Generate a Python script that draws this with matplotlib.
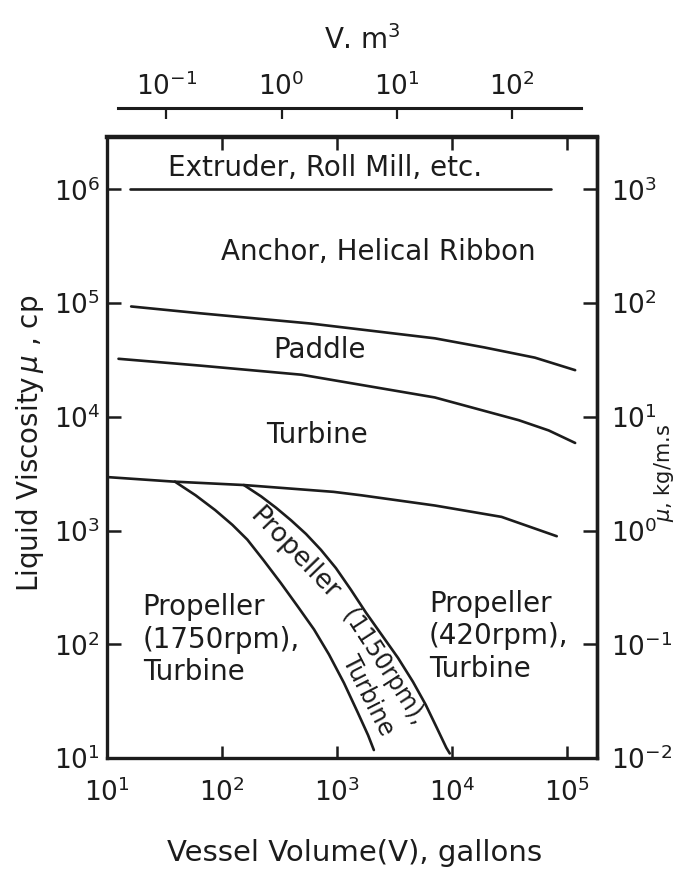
import numpy as np
import matplotlib.pyplot as plt

# values, as log10 exponents
# x = vessel volume, gallons ; y = liquid viscosity, cp
extruder_x = [1.20, 4.86]
extruder_y = [6.00, 6.00]

anchor_x = [1.21, 1.81, 2.77, 3.85, 4.28, 4.72, 5.07]
anchor_y = [4.97, 4.91, 4.82, 4.69, 4.61, 4.52, 4.41]

paddle_x = [1.10, 1.81, 2.69, 3.85, 4.58, 4.84, 5.07]
paddle_y = [4.51, 4.45, 4.37, 4.17, 3.97, 3.88, 3.77]

turbine_x = [1.00, 1.58, 2.19, 2.97, 3.21, 3.85, 4.43, 4.91]
turbine_y = [3.47, 3.43, 3.40, 3.34, 3.31, 3.22, 3.12, 2.95]

prop1750_x = [1.59, 1.77, 1.94, 2.09, 2.22, 2.36, 2.51, 2.66, 2.80, 2.93,
              3.06, 3.18, 3.27, 3.32]
prop1750_y = [3.43, 3.31, 3.18, 3.05, 2.92, 2.74, 2.54, 2.33, 2.13, 1.91,
              1.66, 1.40, 1.20, 1.07]

prop420_x = [2.19, 2.34, 2.47, 2.60, 2.73, 2.86, 2.99, 3.12, 3.25, 3.39,
             3.53, 3.66, 3.77, 3.87, 3.95, 3.98]
prop420_y = [3.40, 3.30, 3.20, 3.09, 2.97, 2.83, 2.67, 2.48, 2.28, 2.08,
             1.88, 1.67, 1.47, 1.26, 1.09, 1.04]

x_ticks = [1, 2, 3, 4, 5]
y_ticks = [1, 2, 3, 4, 5, 6]
mu_ticks = [-2, -1, 0, 1, 2, 3]
m3_ticks = [-1, 0, 1, 2]

# gallons per m^3 as the top scale is drawn in the original
GAL_PER_M3 = 329.0

ink = '#1c1c1c'
plt.rcParams['font.family'] = 'DejaVu Sans'
plt.rcParams['mathtext.fontset'] = 'dejavusans'
plt.rcParams['text.color'] = ink
plt.rcParams['axes.edgecolor'] = ink
plt.rcParams['xtick.color'] = ink
plt.rcParams['ytick.color'] = ink

W, H = 676, 874
fig = plt.figure(figsize=(W / 100, H / 100), dpi=100)
ax = fig.add_axes([107 / W, 1 - 758 / H, (597 - 107) / W, (758 - 137) / H])
ax.set_xscale('log')
ax.set_yscale('log')
ax.set_xlim(10 ** 1, 10 ** 5.26)
ax.set_ylim(10 ** 1, 10 ** 6.46)

def p(v):
    return 10.0 ** np.array(v, dtype=float)

lw = 1.9
for xs, ys in [(extruder_x, extruder_y), (anchor_x, anchor_y),
               (paddle_x, paddle_y), (turbine_x, turbine_y),
               (prop1750_x, prop1750_y), (prop420_x, prop420_y)]:
    ax.plot(p(xs), p(ys), color=ink, lw=lw, solid_capstyle='round',
            solid_joinstyle='round')

for s in ax.spines.values():
    s.set_linewidth(2.4)
ax.spines['top'].set_linewidth(3.2)

tfs = 19
ax.set_xticks(p(x_ticks))
ax.set_xticklabels([r'$10^{%d}$' % t for t in x_ticks])
ax.set_yticks(p(y_ticks))
ax.set_yticklabels([r'$10^{%d}$' % t for t in y_ticks])
ax.minorticks_off()
ax.tick_params(axis='x', which='major', direction='in', top=True, length=9,
               width=1.8, labelsize=tfs, pad=15)
ax.tick_params(axis='y', which='major', direction='in', right=False, length=10,
               width=1.8, labelsize=tfs, pad=5)

# right axis: viscosity in kg/m.s
secy = ax.secondary_yaxis('right', functions=(lambda y: y / 1000, lambda y: y * 1000))
secy.set_yticks(p(mu_ticks))
secy.set_yticklabels([r'$10^{%d}$' % t for t in mu_ticks])
secy.minorticks_off()
secy.tick_params(direction='in', length=10, width=1.8, labelsize=tfs, pad=10)
secy.spines['right'].set_linewidth(2.4)

# top axis: volume in m^3, drawn as a separate line above the frame
secx = ax.secondary_xaxis(1.047, functions=(lambda g: g / GAL_PER_M3, lambda m: m * GAL_PER_M3))
secx.set_xticks(p(m3_ticks))
secx.set_xticklabels([r'$10^{%d}$' % t for t in m3_ticks])
secx.minorticks_off()
secx.tick_params(direction='in', length=8, width=1.6, labelsize=tfs, pad=5)
secx.spines['top'].set_linewidth(2.2)
secx.spines['top'].set_bounds(10 ** -1.42, 10 ** 2.60)

fig.text(362 / W, 1 - 40 / H, r'V. m$^3$', fontsize=20, ha='center', va='center')
fig.text(355 / W, 1 - 853 / H, 'Vessel Volume(V), gallons', fontsize=21,
         ha='center', va='center')
fig.text(30 / W, 1 - 443 / H, r'Liquid Viscosity$\,\mu$ , cp', fontsize=20,
         ha='center', va='center', rotation=90)
fig.text(664 / W, 1 - 473 / H, r'$\mu$, kg/m.s', fontsize=15,
         ha='center', va='center', rotation=90)

fs = 20
ax.text(p(2.90), p(6.19), 'Extruder, Roll Mill, etc.', fontsize=fs, ha='center', va='center')
ax.text(p(3.36), p(5.45), 'Anchor, Helical Ribbon', fontsize=fs, ha='center', va='center')
ax.text(p(2.85), p(4.59), 'Paddle', fontsize=fs, ha='center', va='center')
ax.text(p(2.83), p(3.84), 'Turbine', fontsize=fs, ha='center', va='center')
ax.text(p(1.31), p(2.04), 'Propeller\n(1750rpm),\nTurbine', fontsize=fs,
        ha='left', va='center', linespacing=1.2)
ax.text(p(3.80), p(2.07), 'Propeller\n(420rpm),\nTurbine', fontsize=fs,
        ha='left', va='center', linespacing=1.2)
# labels along the 1150 rpm band
ax.text(p(2.63), p(2.79), 'Propeller', fontsize=19, ha='center', va='center',
        rotation=-46, rotation_mode='anchor')
ax.text(p(3.40), p(1.80), '(1150rpm),', fontsize=17, ha='center', va='center',
        rotation=-57, rotation_mode='anchor')
ax.text(p(3.27), p(1.55), 'Turbine', fontsize=17, ha='center', va='center',
        rotation=-63, rotation_mode='anchor')

fig.savefig('out.png', dpi=100)
